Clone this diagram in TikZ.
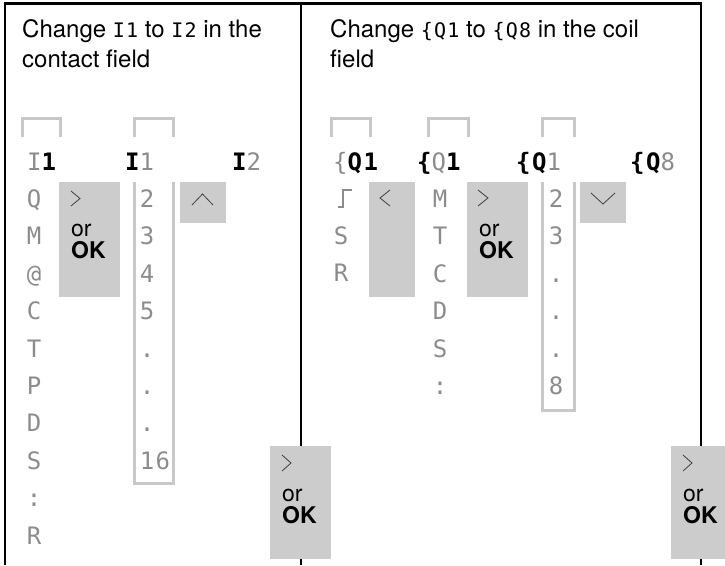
\documentclass[tikz,border=0pt]{standalone}
\usepackage{fontspec}
\setmainfont{TeX Gyre Heros}
\newfontfamily\lcdfont{DejaVu Sans Mono}[LetterSpace=6]
\usetikzlibrary{positioning}
\definecolor{lcdgray}{HTML}{8C8C8C}
\definecolor{keygray}{HTML}{CCCCCC}
\definecolor{markgray}{HTML}{C8C8C8}
\newcommand{\lb}[1]{\textcolor{black}{\bfseries #1}}
\newcommand{\lcdt}[1]{{\lcdfont\fontsize{20}{20}\selectfont #1}}

\begin{document}
\begin{tikzpicture}[x=1pt, y=-1pt,
  node distance=18pt,
  frame/.style={line width=2.5pt},
  title/.style={anchor=base west, align=left, inner sep=0pt, font=\fontsize{24}{30}\selectfont},
  fieldmark/.style={draw=markgray, line width=3pt},
  keybox/.style={fill=keygray, inner sep=0pt, anchor=north west},
  keytxt/.style={anchor=base west, align=left, inner sep=0pt, font=\fontsize{23}{22}\selectfont},
  chev/.style={draw=black!75, line width=0.8pt},
  lcd/.style={font=\lcdfont\fontsize{24}{24}\selectfont, text=lcdgray, inner sep=0pt, text height=18pt, text depth=1pt}
]
  \useasboundingbox (0,0) rectangle (725,565);
  \draw[frame] (5,565) -- (5,3.5) -- (701,3.5) -- (701,565);
  \draw[frame] (301,3.5) -- (301,565);

  \node[title] (tl) at (22,67) {Change \lcdt{I1} to \lcdt{I2} in the\\contact field};
  \node[title] (tr) at (330,67) {Change \lcdt{\{Q1} to \lcdt{\{Q8} in the coil\\field};

  \draw[fieldmark] (22,137) |- (60,118) -- (60,137);
  \draw[fieldmark] (134,137) |- (173,118) -- (173,137);
  \draw[fieldmark] (331,137) |- (370,118) -- (370,137);
  \draw[fieldmark] (428,137) |- (468,118) -- (468,137);
  \draw[fieldmark] (542,137) |- (574,118) -- (574,137);
  \draw[fieldmark] (134,182) |- (173,483) -- (173,182);
  \draw[fieldmark] (542,182) |- (574,410) -- (574,182);

  \node[keybox, minimum width=61pt, minimum height=115pt] (k1) at (59,182) {};
  \node[keybox, minimum width=46pt, minimum height=41pt] (k2) at (180,182) {};
  \node[keybox, minimum width=61pt, minimum height=113pt] (k3) at (270,446) {};
  \node[keybox, minimum width=46pt, minimum height=115pt] (k4) at (369,182) {};
  \node[keybox, minimum width=61pt, minimum height=115pt] (k5) at (467,182) {};
  \node[keybox, minimum width=46pt, minimum height=41pt] (k6) at (580,182) {};
  \node[keybox, minimum width=54pt, minimum height=113pt] (k7) at (671,446) {};

  \draw[chev] ([shift={(12,9)}]k1.north west) -- ++(9,7.5) -- ++(-9,7.5);
  \draw[chev] ([shift={(12,23)}]k2.north west) -- ++(10.5,-11) -- ++(10.5,11);
  \draw[chev] ([shift={(12,9)}]k3.north west) -- ++(9,8) -- ++(-9,8);
  \draw[chev] ([shift={(21,8)}]k4.north west) -- ++(-10,8) -- ++(10,8);
  \draw[chev] ([shift={(11,8)}]k5.north west) -- ++(10,8) -- ++(-10,8);
  \draw[chev] ([shift={(11,11)}]k6.north west) -- ++(12,11) -- ++(12,-11);
  \draw[chev] ([shift={(12,9)}]k7.north west) -- ++(9,8) -- ++(-9,8);

  \node[keytxt] (k1t) at ([shift={(12,76)}]k1.north west) {or\\\textbf{OK}};
  \node[keytxt] (k3t) at ([shift={(12,77)}]k3.north west) {or\\\textbf{OK}};
  \node[keytxt] (k5t) at ([shift={(12,76)}]k5.north west) {or\\\textbf{OK}};
  \node[keytxt] (k7t) at ([shift={(12,77)}]k7.north west) {or\\\textbf{OK}};

  \node[lcd, anchor=west] (a0) at (27,162) {I\lb{1}};
  \node[lcd] (a1) at (34,199) {Q};
  \node[lcd, below=of a1] (a2) {M};
  \node[lcd, below=of a2] (a3) {@};
  \node[lcd, below=of a3] (a4) {C};
  \node[lcd, below=of a4] (a5) {T};
  \node[lcd, below=of a5] (a6) {P};
  \node[lcd, below=of a6] (a7) {D};
  \node[lcd, below=of a7] (a8) {S};
  \node[lcd, below=of a8] (a9) {:};
  \node[lcd, below=of a9] (a10) {R};

  \node[lcd, anchor=west] (b0) at (125,162) {\lb{I}1};
  \node[lcd] (b1) at (147,199) {2};
  \node[lcd, below=of b1] (b2) {3};
  \node[lcd, below=of b2] (b3) {4};
  \node[lcd, below=of b3] (b4) {5};
  \node[lcd, below=of b4] (b5) {.};
  \node[lcd, below=of b5] (b6) {.};
  \node[lcd, below=of b6] (b7) {.};
  \node[lcd, below=of b7, xshift=8pt] (b8) {16};

  \node[lcd, anchor=west] (c0) at (232,162) {\lb{I}2};

  \node[lcd, anchor=west] (d0) at (333,162) {\{\lb{Q1}};
  \coordinate (d1) at (345,199);
  \draw[lcdgray, line width=2.2pt] ([shift={(-7,8)}]d1) -- ++(5,0) -- ++(0,-17) -- ++(9,0);
  \node[lcd] (d2) at (341,236) {S};
  \node[lcd, below=of d2] (d3) {R};

  \node[lcd, anchor=west] (e0) at (417,162) {\lb{\{}Q\lb{1}};
  \node[lcd] (e1) at (440,199) {M};
  \node[lcd, below=of e1] (e2) {T};
  \node[lcd, below=of e2] (e3) {C};
  \node[lcd, below=of e3] (e4) {D};
  \node[lcd, below=of e4] (e5) {S};
  \node[lcd, below=of e5] (e6) {:};

  \node[lcd, anchor=west] (f0) at (516,162) {\lb{\{Q}1};
  \node[lcd] (f1) at (556,199) {2};
  \node[lcd, below=of f1] (f2) {3};
  \node[lcd, below=of f2] (f3) {.};
  \node[lcd, below=of f3] (f4) {.};
  \node[lcd, below=of f4] (f5) {.};
  \node[lcd, below=of f5] (f6) {8};

  \node[lcd, anchor=west] (g0) at (630,162) {\lb{\{Q}8};
\end{tikzpicture}
\end{document}
